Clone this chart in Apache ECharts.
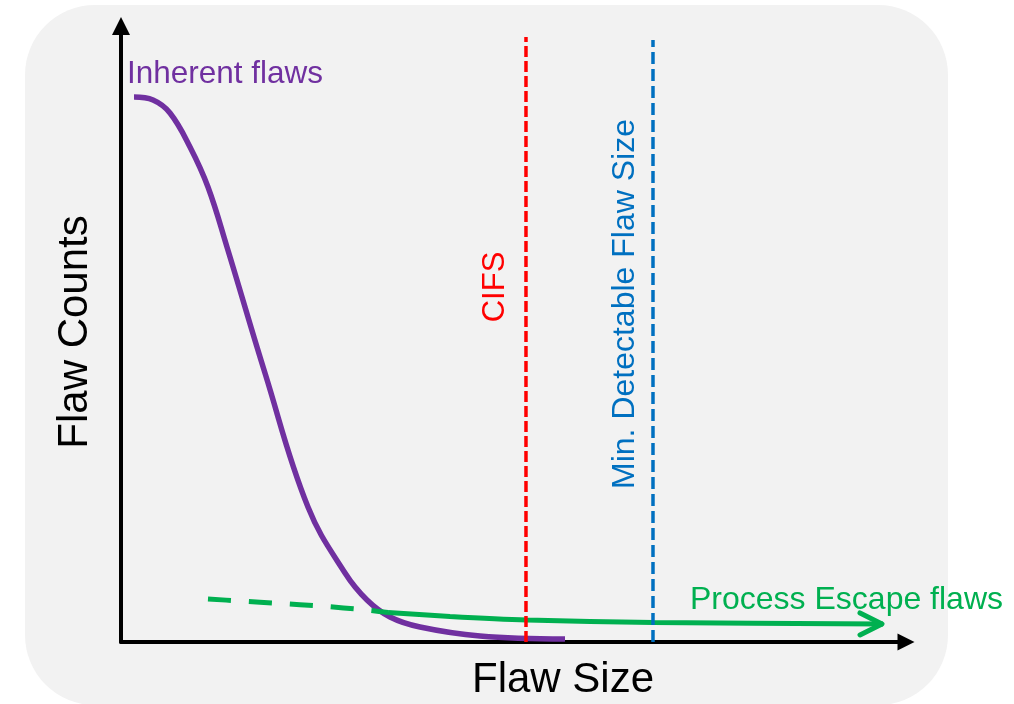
<!DOCTYPE html>
<html><head><meta charset="utf-8">
<script src="https://cdn.jsdelivr.net/npm/echarts@6/dist/echarts.min.js"></script>
<style>html,body{margin:0;padding:0;background:#fff;}#c{width:1014px;height:704px;}</style>
</head><body><div id="c"></div>
<script>
// Inherent flaws curve (flaw size, flaw count) in arbitrary axis units
const inherentSize  = [1.66, 4.08, 6.24, 8.79, 11.08, 13.50, 18.34, 23.82, 28.54, 31.34, 34.27, 38.09, 45.73, 56.56];
const inherentCount = [88.62, 88.13, 86.02, 80.49, 73.98, 64.23, 43.74, 21.95, 11.22, 6.83, 4.07, 2.44, 0.98, 0.49];
// Process escape flaws: dashed (uncertain) part then solid part
const escapeDashSize   = [11.08, 15.16, 20.25, 25.35, 31.34, 34.01];
const escapeDashCount  = [6.99, 6.67, 6.26, 5.85, 5.20, 4.80];
const escapeSolidSize  = [34.01, 41.91, 51.72, 67.77, 97.07];
const escapeSolidCount = [4.80, 4.15, 3.58, 3.17, 2.93];
// Threshold lines
const cifsSize = 51.59, cifsTop = 98.37;
const mdfsSize = 67.77, mdfsTop = 97.89;
// Axis extents
const xMax = 100, yMax = 100.16;
// Texts
const xTitle = 'Flaw Size', yTitle = 'Flaw Counts';
const labelInherent = 'Inherent flaws', labelEscape = 'Process Escape flaws';
const labelCifs = 'CIFS', labelMdfs = 'Min. Detectable Flaw Size';

const PURPLE = '#7030a0', GREEN = '#00b050', RED = '#ff0000', BLUE = '#0070c0';
const FONT = '"Liberation Sans", Arial, sans-serif';

const zip = (a, b) => a.map((v, i) => [v, b[i]]);
const solidData = zip(escapeSolidSize, escapeSolidCount);
const last = solidData.length - 1;
solidData[last] = {
  value: solidData[last],
  symbol: 'path://M0,0 L22,11 L0,22',
  symbolSize: [22, 22],
  symbolOffset: [-12, 0],
  itemStyle: { color: 'rgba(0,0,0,0)', borderColor: GREEN, borderWidth: 5, borderJoin: 'round', borderCap: 'round', opacity: 1 }
};

const TRI = 'path://M5,0 L10,10 L0,10 Z';

const chart = echarts.init(document.getElementById('c'), null, { renderer: 'canvas' });
chart.setOption({
  animation: false,
  backgroundColor: '#ffffff',
  graphic: [
    { type: 'rect', z: -10, silent: true, shape: { x: 25, y: 5, width: 923, height: 700, r: 70 }, style: { fill: '#f2f2f2' } },
    { type: 'text', x: 127, y: 74, style: { text: labelInherent, font: '31.5px ' + FONT, fill: PURPLE, align: 'left', verticalAlign: 'middle' } },
    { type: 'text', x: 690, y: 600, style: { text: labelEscape, font: '32px ' + FONT, fill: GREEN, align: 'left', verticalAlign: 'middle' } },
    { type: 'text', x: 563, y: 680, style: { text: xTitle, font: '42px ' + FONT, fill: '#000', align: 'center', verticalAlign: 'middle' } },
    { type: 'text', x: 75, y: 332, rotation: Math.PI / 2, style: { text: yTitle, font: '42px ' + FONT, fill: '#000', align: 'center', verticalAlign: 'middle' } },
    { type: 'text', x: 495, y: 287, rotation: Math.PI / 2, style: { text: labelCifs, font: '31px ' + FONT, fill: RED, align: 'center', verticalAlign: 'middle' } },
    { type: 'text', x: 625, y: 304, rotation: Math.PI / 2, style: { text: labelMdfs, font: '32px ' + FONT, fill: BLUE, align: 'center', verticalAlign: 'middle' } }
  ],
  grid: { left: 121, right: 108, top: 26, bottom: 62, containLabel: false },
  xAxis: {
    type: 'value', min: 0, max: xMax,
    axisLine: { show: true, symbol: ['none', TRI], symbolSize: [17, 18], lineStyle: { color: '#000', width: 4 } },
    axisTick: { show: false }, axisLabel: { show: false }, splitLine: { show: false }
  },
  yAxis: {
    type: 'value', min: 0, max: yMax,
    axisLine: { show: true, symbol: ['none', TRI], symbolSize: [18, 18], lineStyle: { color: '#000', width: 4 } },
    axisTick: { show: false }, axisLabel: { show: false }, splitLine: { show: false }
  },
  series: [
    { name: labelInherent, type: 'line', smooth: 0.4, symbol: 'none', silent: true,
      lineStyle: { color: PURPLE, width: 5.5 }, data: zip(inherentSize, inherentCount) },
    { name: labelEscape + ' (dashed)', type: 'line', smooth: 0.3, symbol: 'none', silent: true,
      lineStyle: { color: GREEN, width: 5, type: [23, 18] }, data: zip(escapeDashSize, escapeDashCount) },
    { name: labelEscape, type: 'line', smooth: 0.3, symbol: 'none', silent: true,
      itemStyle: { color: GREEN },
      lineStyle: { color: GREEN, width: 5 }, data: solidData },
    { name: labelCifs, type: 'line', symbol: 'none', silent: true,
      lineStyle: { color: RED, width: 3.5, type: [11, 4] }, data: [[cifsSize, 0], [cifsSize, cifsTop]] },
    { name: labelMdfs, type: 'line', symbol: 'none', silent: true,
      lineStyle: { color: BLUE, width: 3.5, type: [12, 5] }, data: [[mdfsSize, 0], [mdfsSize, mdfsTop]] }
  ]
});
</script>
</body></html>
